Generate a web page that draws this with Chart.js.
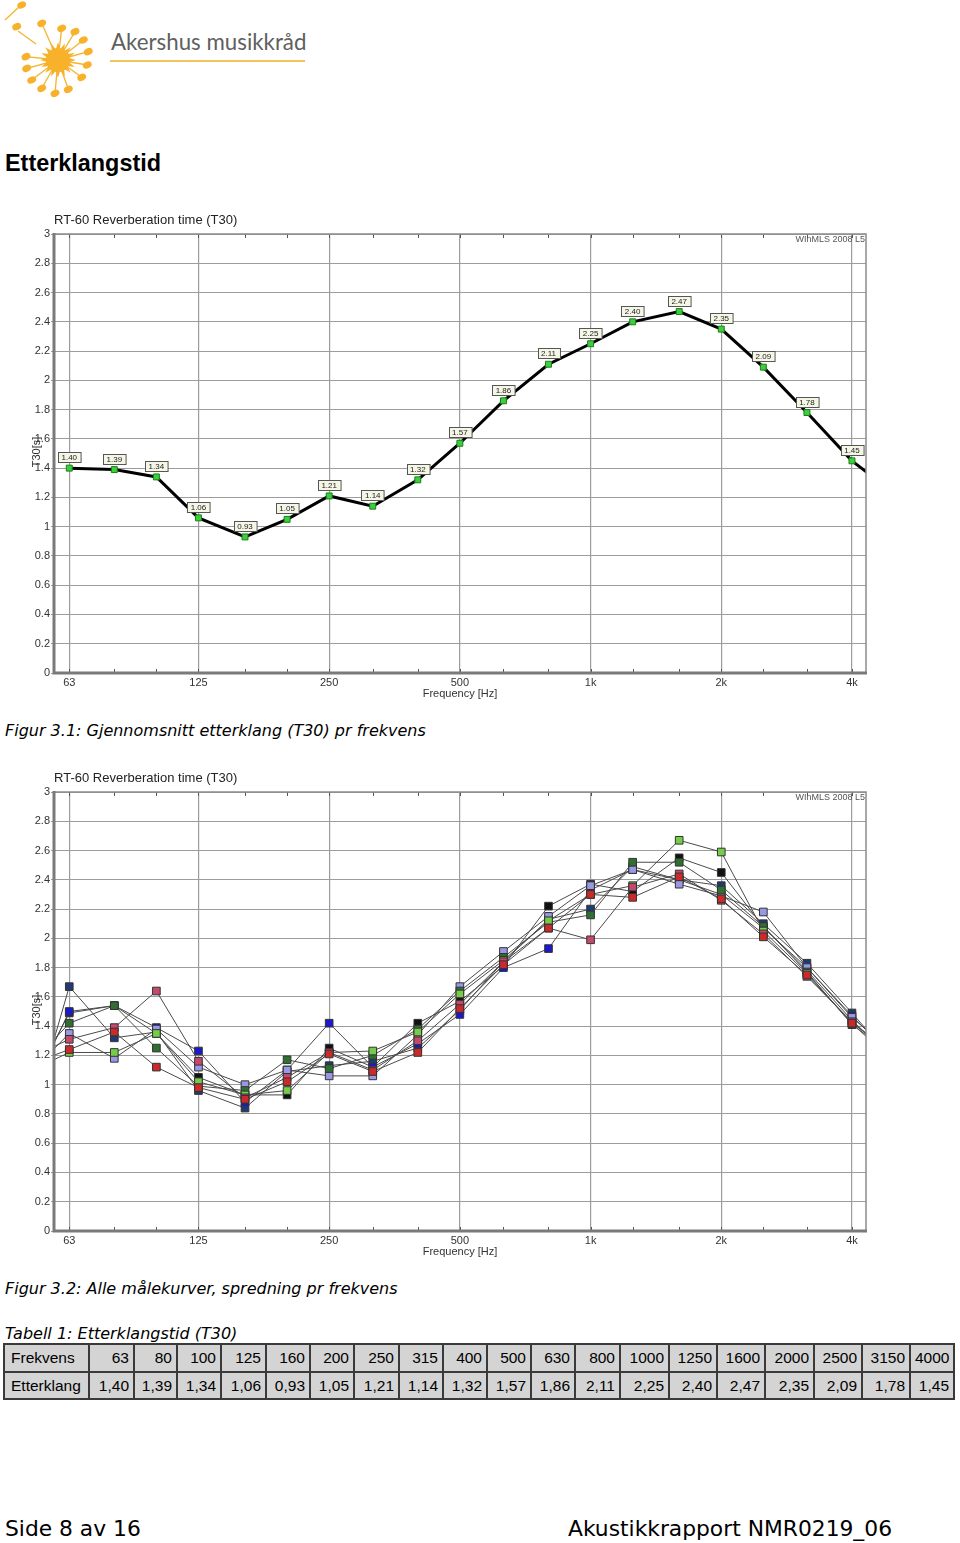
<!DOCTYPE html>
<html lang="no">
<head>
<meta charset="UTF-8">
<title>Etterklangstid</title>
<script src="https://cdn.jsdelivr.net/npm/chart.js"></script>
<style>
    * { margin: 0; padding: 0; box-sizing: border-box; }
    body {
        width: 960px; height: 1543px; position: relative; overflow: hidden;
        background: #fff; color: #000; font-family: 'DejaVu Sans', sans-serif;
    }
    .logo { position: absolute; left: 0; top: 0; }
    .brand { position: absolute; left: 111px; top: 29px; font-family: Lato, sans-serif; font-size: 22.3px; line-height: 26px; color: #5f5f5f; }
    .brand-line { position: absolute; left: 110px; top: 60px; width: 195px; height: 2px; background: #f1c35a; }
    h1 { position: absolute; left: 5px; top: 150px; font-family: 'Liberation Sans', Arial, sans-serif; font-size: 23.4px; line-height: 26px; font-weight: bold; }
    .cap { position: absolute; left: 5px; font-style: italic; font-size: 16px; line-height: 20px; white-space: nowrap; }
    .chart-box { position: absolute; left: 0; }
    table { position: absolute; left: 3px; top: 1343px; border-collapse: collapse; table-layout: fixed;
        font-family: 'Liberation Sans', Arial, sans-serif; font-size: 15.5px; }
    td { border: 2px solid #3a3a3a; background: #d4d4d4; text-align: right; padding: 0 4px; white-space: nowrap; }
    td:first-child { text-align: left; padding-left: 6px; }
    tr.r1 td { height: 28px; }
    tr.r2 td { height: 27px; }
    .foot { position: absolute; top: 1516px; font-size: 21.8px; line-height: 26px; }
</style>
</head>
<body>
<svg class="logo" id="logo" width="110" height="100" viewBox="0 0 110 100"></svg>
<div class="brand">Akershus musikkråd</div>
<div class="brand-line"></div>

<h1>Etterklangstid</h1>

<div class="chart-box" style="top:205px"><canvas id="avgChart" width="880" height="500"></canvas></div>
<div class="cap" style="top:721px">Figur 3.1: Gjennomsnitt etterklang (T30) pr frekvens</div>

<div class="chart-box" style="top:763px"><canvas id="allChart" width="880" height="500"></canvas></div>
<div class="cap" style="top:1279px">Figur 3.2: Alle målekurver, spredning pr frekvens</div>

<div class="cap" style="top:1324px">Tabell 1: Etterklangstid (T30)</div>
<table id="t30table"></table>

<div class="foot" style="left:5px">Side 8 av 16</div>
<div class="foot" style="left:568px">Akustikkrapport NMR0219_06</div>

<script>
// third-octave bands shown in the table / on the charts
const freqs = [63, 80, 100, 125, 160, 200, 250, 315, 400, 500, 630, 800, 1000, 1250, 1600, 2000, 2500, 3150, 4000];
const avgT30 = [1.40, 1.39, 1.34, 1.06, 0.93, 1.05, 1.21, 1.14, 1.32, 1.57, 1.86, 2.11, 2.25, 2.40, 2.47, 2.35, 2.09, 1.78, 1.45];
const avgT30At5000 = 1.23;   // runs off the right edge

// individual measurements, bands 50 .. 5000 Hz (ends are clipped by the plot)
const bandsExt = [50, 63, 80, 100, 125, 160, 200, 250, 315, 400, 500, 630, 800, 1000, 1250, 1600, 2000, 2500, 3150, 4000, 5000];
const mNavy     = [0.64, 1.67, 1.32, 1.36, 0.96, 0.84, 1.09, 1.13, 1.16, 1.25, 1.51, 1.84, 2.13, 2.20, 2.49, 2.40, 2.36, 2.10, 1.83, 1.49, 1.16];
const mBlue     = [0.88, 1.50, 1.54, 1.39, 1.23, 0.88, 1.10, 1.42, 1.12, 1.28, 1.48, 1.80, 1.93, 2.33, 2.47, 2.40, 2.30, 2.07, 1.80, 1.47, 1.18];
const mBlack    = [0.92, 1.49, 1.54, 1.35, 1.05, 0.93, 0.93, 1.25, 1.12, 1.42, 1.57, 1.81, 2.22, 2.37, 2.32, 2.55, 2.45, 2.08, 1.78, 1.44, 1.17];
const mDkGreen  = [1.10, 1.42, 1.54, 1.25, 0.99, 0.96, 1.17, 1.11, 1.20, 1.38, 1.64, 1.87, 2.11, 2.16, 2.52, 2.52, 2.33, 2.08, 1.77, 1.41, 1.20];
const mLtGreen  = [1.08, 1.22, 1.22, 1.35, 1.02, 0.93, 0.96, 1.22, 1.23, 1.36, 1.62, 1.85, 2.12, 2.30, 2.36, 2.67, 2.59, 2.05, 1.76, 1.42, 1.22];
const mPink     = [1.17, 1.31, 1.39, 1.64, 1.16, 0.91, 1.05, 1.22, 1.10, 1.30, 1.55, 1.84, 2.07, 1.99, 2.35, 2.44, 2.26, 2.03, 1.74, 1.43, 1.18];
const mRed      = [1.13, 1.24, 1.36, 1.12, 0.98, 0.90, 1.02, 1.21, 1.09, 1.22, 1.52, 1.82, 2.07, 2.30, 2.28, 2.42, 2.27, 2.01, 1.75, 1.42, 1.15];
const mLavender = [1.05, 1.35, 1.18, 1.38, 1.12, 1.00, 1.10, 1.06, 1.06, 1.34, 1.67, 1.91, 2.15, 2.36, 2.47, 2.37, 2.29, 2.18, 1.80, 1.46, 1.21];

const majorFreqs = [63, 125, 250, 500, 1000, 2000, 4000];
const majorNames = ['63', '125', '250', '500', '1k', '2k', '4k'];
const xMin = 58.1, xMax = 4309;
const yMin = 0, yMax = 3, yStep = 0.2;

// ---- logo -------------------------------------------------------------
(function () {
    const svg = document.getElementById('logo');
    const cx = 58, cy = 60;
    const notes = [[41.7, 23.3], [61.7, 28.3], [75, 31.7], [83.3, 40], [88.3, 51.7], [87.3, 65], [81.7, 77.3],
        [68.3, 89.3], [55, 93.3], [41.7, 88.3], [31.7, 80], [26.7, 68.3], [26, 56.7]];
    let s = '<g stroke="#f5b42a" stroke-width="1.3" fill="none">';
    notes.forEach(([x, y]) => { s += `<line x1="${cx}" y1="${cy}" x2="${x}" y2="${y}"/>`; });
    s += '<line x1="5" y1="20" x2="19" y2="7"/><line x1="18" y1="31" x2="36" y2="44"/></g>';
    s += '<g fill="#f7b12b">';
    notes.concat([[21.7, 5], [16.7, 26.7]]).forEach(([x, y]) => {
        s += `<ellipse cx="${x}" cy="${y}" rx="4.6" ry="3.4" transform="rotate(-25 ${x} ${y})"/>`;
    });
    let pts = [];
    for (let i = 0; i < 32; i++) {
        const r = i % 2 ? 11 : 18, a = i * Math.PI / 16;
        pts.push((cx + r * Math.cos(a)).toFixed(1) + ',' + (cy + r * Math.sin(a)).toFixed(1));
    }
    s += `<polygon points="${pts.join(' ')}"/><circle cx="${cx}" cy="${cy}" r="12"/></g>`;
    svg.innerHTML = s;
})();

// ---- table ------------------------------------------------------------
(function () {
    const widths = [85, 45, 43, 44, 45, 44, 44, 45, 44, 44, 44, 44, 45, 49, 48, 48, 49, 48, 48, 44];
    let h = '<colgroup>' + widths.map(w => `<col style="width:${w}px">`).join('') + '</colgroup>';
    h += '<tr class="r1"><td>Frekvens</td>' + freqs.map(f => `<td>${f}</td>`).join('') + '</tr>';
    h += '<tr class="r2"><td>Etterklang</td>' + avgT30.map(v => `<td>${v.toFixed(2).replace('.', ',')}</td>`).join('') + '</tr>';
    const t = document.getElementById('t30table');
    t.innerHTML = h;
    t.style.width = widths.reduce((a, b) => a + b, 0) + 'px';
})();

// ---- charts -----------------------------------------------------------
const frame = {
    id: 'frame',
    afterDatasetsDraw(chart) {
        const o = chart.options.plugins.frame;
        if (!o.labels) return;
        const { ctx, chartArea: a } = chart;
        const meta = chart.getDatasetMeta(0);
        ctx.save();
        ctx.font = '8px "Liberation Sans"';
        ctx.textAlign = 'center';
        ctx.textBaseline = 'middle';
        meta.data.forEach((p, i) => {
            if (p.x < a.left || p.x > a.right) return;
            const txt = chart.data.datasets[0].data[i].y.toFixed(2);
            const w = ctx.measureText(txt).width + 7, h = 10;
            const bx = Math.round(p.x - w / 2) + 0.5, by = Math.round(p.y - 6 - h) + 0.5;
            ctx.fillStyle = '#f6f6e6';
            ctx.fillRect(bx, by, w, h);
            ctx.strokeStyle = '#555';
            ctx.lineWidth = 1;
            ctx.strokeRect(bx, by, w, h);
            ctx.fillStyle = '#222';
            ctx.fillText(txt, p.x, by + h / 2 + 0.5);
        });
        ctx.restore();
    },
    afterDraw(chart) {
        const { ctx, chartArea: a, scales: { x } } = chart;
        ctx.save();
        // minor third-octave ticks, top and bottom
        ctx.strokeStyle = '#555';
        ctx.lineWidth = 1;
        freqs.forEach(f => {
            const px = Math.round(x.getPixelForValue(f)) + 0.5;
            ctx.beginPath();
            ctx.moveTo(px, a.top); ctx.lineTo(px, a.top + 4);
            ctx.moveTo(px, a.bottom); ctx.lineTo(px, a.bottom - 4);
            ctx.stroke();
        });
        // frame
        ctx.strokeStyle = '#8c8c8c';
        ctx.lineWidth = 1.5;
        ctx.beginPath();
        ctx.moveTo(a.left, a.top); ctx.lineTo(a.right, a.top); ctx.lineTo(a.right, a.bottom);
        ctx.stroke();
        ctx.strokeStyle = '#7a7a7a';
        ctx.lineWidth = 3;
        ctx.beginPath();
        ctx.moveTo(a.left, a.top - 1); ctx.lineTo(a.left, a.bottom); ctx.lineTo(a.right + 1, a.bottom);
        ctx.stroke();
        // texts
        ctx.fillStyle = '#222';
        ctx.font = '13px "Liberation Sans"';
        ctx.textBaseline = 'middle';
        ctx.textAlign = 'left';
        ctx.fillText('RT-60 Reverberation time (T30)', a.left, a.top - 14);
        ctx.fillStyle = '#555';
        ctx.font = '9px "Liberation Sans"';
        ctx.textAlign = 'right';
        ctx.fillText('WInMLS 2008 L5', a.right - 1, a.top + 6);
        ctx.fillStyle = '#333';
        ctx.font = '11px "Liberation Sans"';
        ctx.textAlign = 'center';
        ctx.fillText('Frequency [Hz]', (a.left + a.right) / 2, a.bottom + 21);
        ctx.translate(37, a.top + 218);
        ctx.rotate(-Math.PI / 2);
        ctx.fillText('T30[s]', 0, 0);
        ctx.restore();
    }
};

function baseOptions(withLabels) {
    return {
        responsive: false,
        animation: false,
        layout: { padding: { top: 29, right: 14, left: 0, bottom: 0 } },
        plugins: { legend: { display: false }, tooltip: { enabled: false }, frame: { labels: withLabels } },
        scales: {
            x: {
                type: 'logarithmic', min: xMin, max: xMax,
                afterBuildTicks: s => { s.ticks = majorFreqs.map(v => ({ value: v })); },
                afterFit: s => { s.height = 32; },
                grid: { color: '#9c9c9c', lineWidth: 1.2, drawTicks: false },
                border: { display: false },
                ticks: {
                    autoSkip: false, maxRotation: 0, padding: 3, color: '#333',
                    font: { family: 'Liberation Sans', size: 11 },
                    callback: (v, i) => majorNames[i]
                }
            },
            y: {
                min: yMin, max: yMax,
                afterFit: s => { s.width = 54; },
                grid: { color: '#9c9c9c', lineWidth: 1, tickLength: 3 },
                border: { display: false },
                ticks: {
                    stepSize: yStep, padding: 1, color: '#333',
                    font: { family: 'Liberation Sans', size: 11 },
                    callback: v => String(Number(v.toFixed(1)))
                }
            }
        }
    };
}

const avgPoints = freqs.map((f, i) => ({ x: f, y: avgT30[i] })).concat([{ x: 5000, y: avgT30At5000 }]);

new Chart(document.getElementById('avgChart'), {
    type: 'line',
    data: {
        datasets: [{
            data: avgPoints,
            borderColor: '#000', borderWidth: 3, tension: 0,
            pointStyle: 'rect', pointRadius: 4.2,
            pointBackgroundColor: '#3ccf3c', pointBorderColor: '#1d7d1d', pointBorderWidth: 1
        }]
    },
    options: baseOptions(true),
    plugins: [frame]
});

const series = [
    { vals: mRed, color: '#cc2a2a' },
    { vals: mPink, color: '#c44a6c' },
    { vals: mLtGreen, color: '#74cc48' },
    { vals: mDkGreen, color: '#2f6f30' },
    { vals: mLavender, color: '#9898e6' },
    { vals: mBlue, color: '#1a1acc' },
    { vals: mNavy, color: '#203a72' },
    { vals: mBlack, color: '#111' }
];

new Chart(document.getElementById('allChart'), {
    type: 'line',
    data: {
        datasets: series.map(s => ({
            data: bandsExt.map((f, i) => ({ x: f, y: s.vals[i] })),
            borderColor: '#4a4a4a', borderWidth: 1, tension: 0,
            pointStyle: 'rect', pointRadius: 5.4,
            pointBackgroundColor: s.color, pointBorderColor: '#333', pointBorderWidth: 1
        }))
    },
    options: baseOptions(false),
    plugins: [frame]
});
</script>
</body>
</html>
